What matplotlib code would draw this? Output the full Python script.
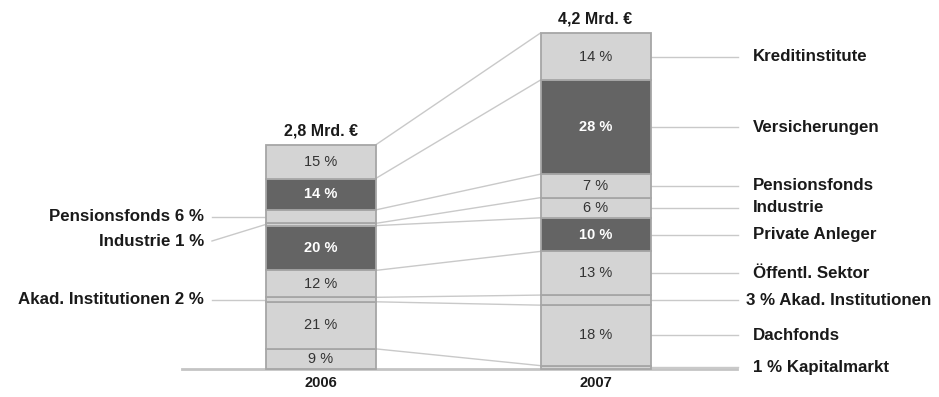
import numpy as np
import matplotlib.pyplot as plt

plt.rcParams['font.family'] = ['Liberation Sans', 'DejaVu Sans']

# Volumen je Jahr in Mrd. EUR und Anteile der Investorengruppen (von unten nach oben)
years = ['2006', '2007']
totals = [2.8, 4.2]
total_labels = ['2,8 Mrd. €', '4,2 Mrd. €']
groups = ['Kapitalmarkt', 'Dachfonds', 'Akad. Institutionen', 'Öffentl. Sektor',
          'Private Anleger', 'Industrie', 'Pensionsfonds', 'Versicherungen', 'Kreditinstitute']
shares_2006 = [9, 21, 2, 12, 20, 1, 6, 14, 15]
shares_2007 = [1, 18, 3, 13, 10, 6, 7, 28, 14]
dark = [False, False, False, False, True, False, False, True, False]

# Beschriftungen links (2006) und rechts (2007)
left_labels = {'Pensionsfonds': 'Pensionsfonds 6 %', 'Industrie': 'Industrie 1 %',
               'Akad. Institutionen': 'Akad. Institutionen 2 %'}
right_labels = ['1 % Kapitalmarkt', 'Dachfonds', '3 % Akad. Institutionen', 'Öffentl. Sektor',
                'Private Anleger', 'Industrie', 'Pensionsfonds', 'Versicherungen', 'Kreditinstitute']

LIGHT = '#d4d4d4'
DARK = '#646464'
EDGE = '#a6a6a6'
LINK = '#c9c9c9'
TXT = '#1a1a1a'

fig = plt.figure(figsize=(9.39, 3.97), dpi=100)
ax = fig.add_axes([0, 0, 1, 1])
px = 80.0  # Pixel je Mrd.
ax.set_xlim(0, 939)
ax.set_ylim(-28 / px, (397 - 28) / px)
ax.axis('off')

bar_x = [320.5, 595.5]
bar_w = 110

cums = []
for i, shares in enumerate([shares_2006, shares_2007]):
    vals = np.array(shares) / 100 * totals[i]
    bottoms = np.concatenate([[0], np.cumsum(vals)[:-1]])
    cums.append(np.cumsum(vals))
    colors = [DARK if d else LIGHT for d in dark]
    ax.bar(bar_x[i], vals, bottom=bottoms, width=bar_w, color=colors,
           edgecolor=EDGE, linewidth=1.3, zorder=3)
    for v, b, s, d in zip(vals, bottoms, shares, dark):
        if v < 0.2:
            continue
        ax.text(bar_x[i], b + v / 2, f'{s} %', ha='center', va='center',
                fontsize=10.5, color='white' if d else '#333333',
                fontweight='bold' if d else 'normal', zorder=4)
    ax.text(bar_x[i], totals[i] + 0.08, total_labels[i], ha='center', va='bottom',
            fontsize=11.5, fontweight='bold', color=TXT)
    ax.text(bar_x[i], -0.18, years[i], ha='center', va='center',
            fontsize=10.5, fontweight='bold', color=TXT)

# Verbindungslinien zwischen den Segmentgrenzen
x0 = bar_x[0] + bar_w / 2
x1 = bar_x[1] - bar_w / 2
for a, b in zip(cums[0], cums[1]):
    ax.plot([x0, x1], [a, b], color=LINK, lw=1, zorder=2)

# Grundlinie
ax.plot([182, 737], [0, 0], color='#c4c4c4', lw=2, zorder=2)

# Linke Beschriftungen
v06 = np.array(shares_2006) / 100 * totals[0]
mid06 = np.cumsum(v06) - v06 / 2
left_y = {'Pensionsfonds': mid06[6], 'Industrie': (369 - 241) / px,
          'Akad. Institutionen': mid06[2]}
for name, text in left_labels.items():
    k = groups.index(name)
    ty = left_y[name]
    ax.plot([212, bar_x[0] - bar_w / 2], [ty, mid06[k]], color=LINK, lw=1, zorder=2)
    ax.text(204, ty, text, ha='right', va='center', fontsize=12.2, fontweight='bold',
            color=TXT)

# Rechte Beschriftungen
v07 = np.array(shares_2007) / 100 * totals[1]
mid07 = np.cumsum(v07) - v07 / 2
for m, text in zip(mid07, right_labels):
    ax.plot([bar_x[1] + bar_w / 2, 738], [m, m], color=LINK, lw=1, zorder=2)
    tx = 746 if text.startswith('3 %') else 753
    ax.text(tx, m, text, ha='left', va='center', fontsize=12.2, fontweight='bold',
            color=TXT)

fig.savefig('out.png', dpi=100)
